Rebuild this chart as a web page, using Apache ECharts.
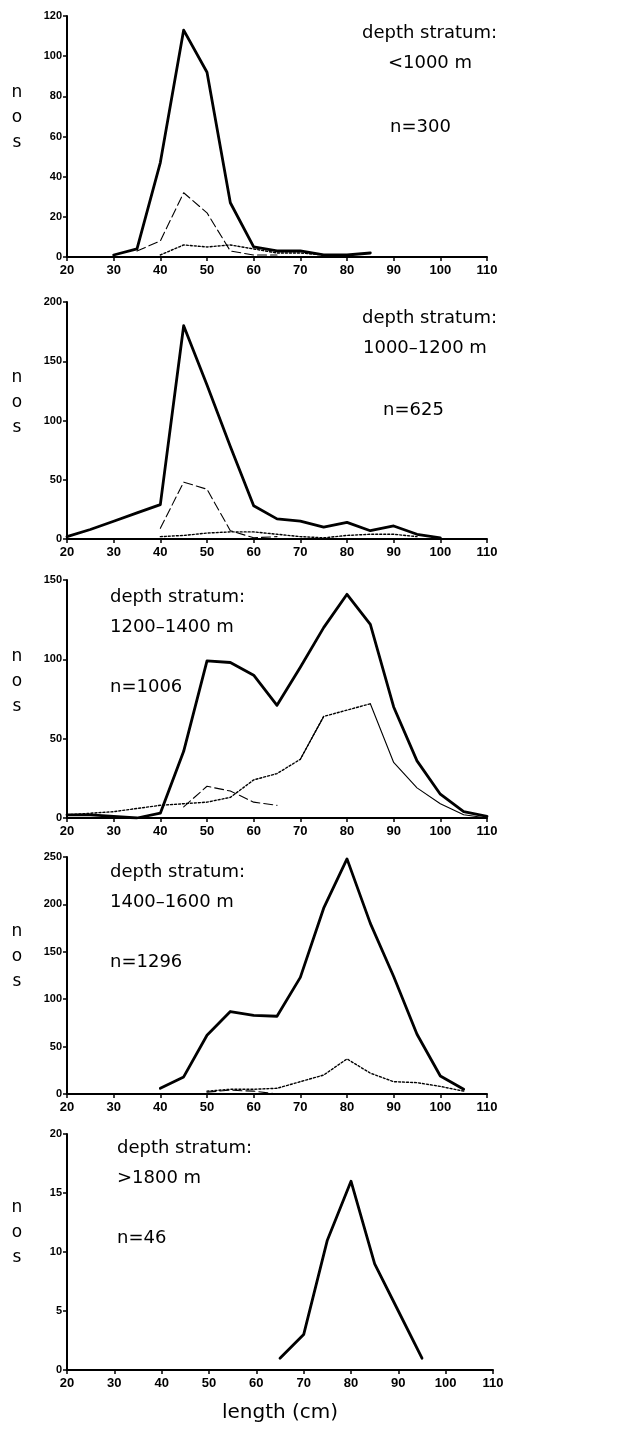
<!DOCTYPE html>
<html>
<head>
<meta charset="utf-8">
<script src="https://cdn.jsdelivr.net/npm/echarts@6/dist/echarts.min.js"></script>
<style>html,body{margin:0;padding:0;background:#fff}#c{width:620px;height:1432px}</style>
</head>
<body>
<div id="c"></div>
<script>
// length classes (cm)
const lengths = [20,25,30,35,40,45,50,55,60,65,70,75,80,85,90,95,100,105,110];
const xTicks = [20,30,40,50,60,70,80,90,100,110];

// panel 1: <1000 m
const p1Total = [null,null,1,4,47,113,92,27,5,3,3,1,1,2,null,null,null,null,null];
const p1Dash  = [null,null,null,3,8,32,22,3,1,1,null,null,null,null,null,null,null,null,null];
const p1Dot   = [null,null,null,null,1,6,5,6,4,2,2,1,null,null,null,null,null,null,null];
// panel 2: 1000-1200 m
const p2Total = [2,8,15,22,29,180,130,78,28,17,15,10,14,7,11,4,1,null,null];
const p2Dash  = [null,null,null,null,9,48,42,7,1,2,null,null,null,null,null,null,null,null,null];
const p2Dot   = [null,null,null,null,2,3,5,6,6,4,2,1,3,4,4,2,null,null,null];
// panel 3: 1200-1400 m
const p3Total = [2,2,1,0,3,42,99,98,90,71,95,120,141,122,70,36,15,4,1];
const p3Dash  = [null,null,null,null,null,7,20,17,10,8,null,null,null,null,null,null,null,null,null];
const p3Dot   = [2,3,4,6,8,9,10,13,24,28,37,64,68,72,null,null,null,null,null];
const p3Thin  = [null,null,null,null,null,null,null,null,null,null,37,64,null,72,35,19,9,2,0];
// panel 4: 1400-1600 m
const p4Total = [null,null,null,null,6,18,62,87,83,82,123,196,248,180,124,63,19,5,null];
const p4Dash  = [null,null,null,null,null,null,2,4,3,0,null,null,null,null,null,null,null,null,null];
const p4Dot   = [null,null,null,null,null,null,3,5,5,6,13,20,37,22,13,12,8,3,null];
// panel 5: >1800 m
const p5Total = [null,null,null,null,null,null,null,null,null,1,3,11,16,9,5,1,null,null,null];

const yMax = [120,200,150,250,20];
const yInt = [20,50,50,50,5];
const titles = [
  ["depth stratum:","<1000 m","n=300"],
  ["depth stratum:","1000–1200 m","n=625"],
  ["depth stratum:","1200–1400 m","n=1006"],
  ["depth stratum:","1400–1600 m","n=1296"],
  ["depth stratum:",">1800 m","n=46"]
];

// layout
const grids = [
  {top:16, height:241, left:67, right:133},
  {top:302, height:237, left:67, right:133},
  {top:580, height:238, left:67, right:133},
  {top:857, height:237, left:67, right:133},
  {top:1134, height:236, left:67, right:127}
];
const textPos = [
  [[362,33,'left'],[430,63,'center'],[390,127,'left']],
  [[362,318,'left'],[363,348,'left'],[383,410,'left']],
  [[110,597,'left'],[110,627,'left'],[110,687,'left']],
  [[110,872,'left'],[110,902,'left'],[110,962,'left']],
  [[117,1148,'left'],[117,1178,'left'],[117,1238,'left']]
];
const nosY = [118,403,682,957,1233];

const FONT = '"DejaVu Sans", sans-serif';
const TICKFONT = '"Liberation Sans", Arial, sans-serif';
const pair = a => lengths.map((x,i)=>[x, a[i]]);

const panels = [
  [{d:p1Total,k:'total'},{d:p1Dash,k:'dash'},{d:p1Dot,k:'dot'}],
  [{d:p2Total,k:'total'},{d:p2Dash,k:'dash'},{d:p2Dot,k:'dot'}],
  [{d:p3Total,k:'total'},{d:p3Dash,k:'dash'},{d:p3Dot,k:'dot'},{d:p3Thin,k:'thin'}],
  [{d:p4Total,k:'total'},{d:p4Dash,k:'dash'},{d:p4Dot,k:'dot'}],
  [{d:p5Total,k:'total'}]
];
const styles = {
  total:{width:2.8,type:'solid'},
  dash:{width:1.1,type:[9,4]},
  dot:{width:1.4,type:[2,2]},
  thin:{width:1.1,type:'solid'}
};

const xAxis=[], yAxis=[], series=[], graphic=[];
grids.forEach((g,i)=>{
  xAxis.push({
    type:'value', gridIndex:i, min:20, max:110, interval:10,
    axisLine:{show:true,onZero:false,lineStyle:{color:'#000',width:2}},
    axisTick:{show:true,length:4,lineStyle:{color:'#000',width:1.5}},
    axisLabel:{color:'#000',fontFamily:TICKFONT,fontWeight:'bold',fontSize:13,margin:7,
      formatter:v=>xTicks.includes(v)?String(v):''},
    splitLine:{show:false},
    name: i===4 ? 'length (cm)' : '',
    nameLocation:'middle', nameGap:33,
    nameTextStyle:{color:'#000',fontFamily:FONT,fontSize:20}
  });
  yAxis.push({
    type:'value', gridIndex:i, min:0, max:yMax[i], interval:yInt[i],
    axisLine:{show:true,lineStyle:{color:'#000',width:2}},
    axisTick:{show:true,length:4,lineStyle:{color:'#000',width:1.5}},
    axisLabel:{color:'#000',fontFamily:TICKFONT,fontWeight:'bold',fontSize:11,margin:5},
    splitLine:{show:false}
  });
  panels[i].forEach(s=>{
    series.push({
      type:'line', xAxisIndex:i, yAxisIndex:i, data:pair(s.d),
      showSymbol:false, symbol:'none', connectNulls:false, silent:true,
      lineStyle:{color:'#000', width:styles[s.k].width, type:styles[s.k].type, cap:'round', join:'round'},
      z: s.k==='total'?3:2
    });
  });
  titles[i].forEach((t,j)=>{
    const p = textPos[i][j];
    graphic.push({type:'text', x:p[0], y:p[1],
      style:{text:t, fill:'#000', font:'18px '+FONT, textAlign:p[2], textVerticalAlign:'middle'}});
  });
  graphic.push({type:'text', x:17, y:nosY[i],
    style:{text:'n\no\ns', fill:'#000', font:'17px '+FONT, textAlign:'center', textVerticalAlign:'middle', lineHeight:25}});
});

const chart = echarts.init(document.getElementById('c'), null, {renderer:'canvas'});
chart.setOption({
  animation:false,
  backgroundColor:'#fff',
  grid:grids.map(g=>Object.assign({containLabel:false},g)),
  xAxis, yAxis, series, graphic
});
</script>
</body>
</html>
